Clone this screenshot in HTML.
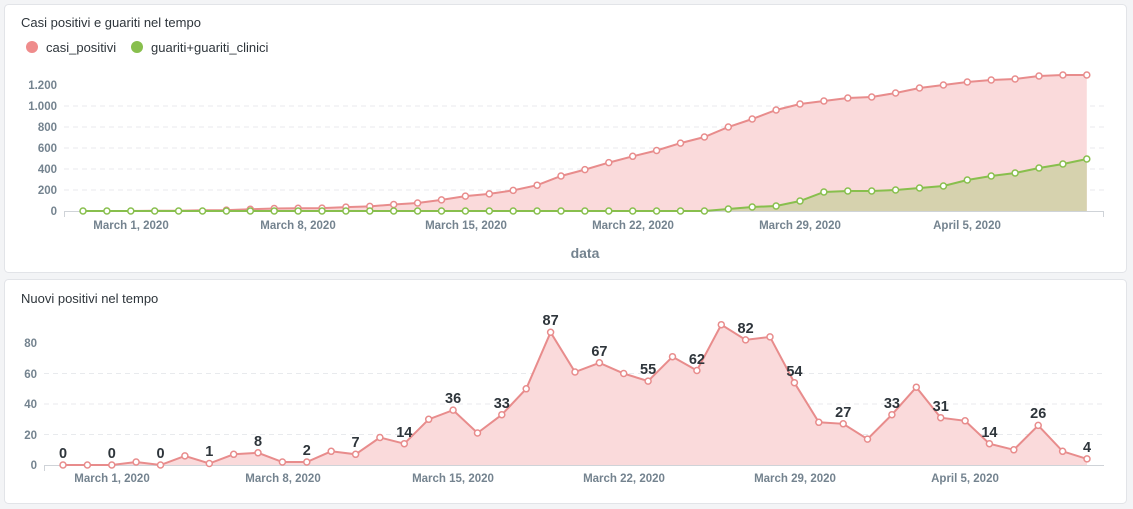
<!DOCTYPE html>
<html><head><meta charset="utf-8"><style>
html,body{margin:0;padding:0;background:#f3f4f6;width:1133px;height:509px;overflow:hidden}
svg{display:block;font-family:"Liberation Sans",sans-serif}
</style></head><body>
<svg width="1133" height="509" viewBox="0 0 1133 509">
<rect x="0" y="0" width="1133" height="509" fill="#f3f4f6"/>
<rect x="4.5" y="4.5" width="1122" height="268" rx="4" fill="#fff" stroke="#e2e4e8"/>
<rect x="4.5" y="279.5" width="1122" height="224" rx="4" fill="#fff" stroke="#e2e4e8"/>
<text x="21" y="27" font-size="13" fill="#2e353b">Casi positivi e guariti nel tempo</text>
<circle cx="32" cy="47" r="6" fill="#ef8c8c"/>
<text x="46" y="52" font-size="13" fill="#2e353b">casi_positivi</text>
<circle cx="137" cy="47" r="6" fill="#88bf4d"/>
<text x="151" y="52" font-size="13" fill="#2e353b">guariti+guariti_clinici</text>
<g stroke="#e8eaed" stroke-dasharray="5,4">
<line x1="64" x2="1104" y1="106" y2="106"/><line x1="64" x2="1104" y1="127" y2="127"/><line x1="64" x2="1104" y1="148" y2="148"/><line x1="64" x2="1104" y1="169" y2="169"/><line x1="64" x2="1104" y1="190" y2="190"/>
</g>
<g font-size="11.5" font-weight="bold" fill="#74838f" text-anchor="end">
<text x="57" y="89">1.200</text><text x="57" y="110">1.000</text><text x="57" y="131">800</text><text x="57" y="152">600</text><text x="57" y="173">400</text><text x="57" y="194">200</text><text x="57" y="215">0</text>
</g>
<polygon fill="#fadadb" points="83,211 106.9,211 130.8,211 154.7,210.8 178.6,210.8 202.5,210.2 226.4,210.1 250.3,209.3 274.2,208.5 298.1,208.3 322,208.1 345.9,207.1 369.8,206.4 393.7,204.5 417.6,203 441.5,199.9 465.4,196.1 489.3,193.9 513.2,190.4 537.1,185.2 561,176 584.9,169.6 608.8,162.6 632.7,156.3 656.6,150.5 680.5,143.1 704.4,137 728.3,127 752.2,119 776.1,110 800,104 823.9,101 847.8,98 871.7,97 895.6,93 919.5,88 943.4,85 967.3,82 991.2,80 1015.1,79 1039,76 1062.9,75 1086.8,75 1086.8,211"/>
<polygon fill="#d6d2ae" points="704.4,211 728.3,209 752.2,207 776.1,206 800,201 823.9,192 847.8,191 871.7,191 895.6,190 919.5,188 943.4,186 967.3,180 991.2,176 1015.1,173 1039,168 1062.9,164 1086.8,159 1086.8,211"/>
<line x1="64" x2="1104" y1="211.5" y2="211.5" stroke="#cfd3d8"/>
<line x1="64.5" x2="64.5" y1="211" y2="217" stroke="#cfd3d8"/>
<line x1="1103.5" x2="1103.5" y1="211" y2="217" stroke="#cfd3d8"/>
<polyline fill="none" stroke="#e88c8c" stroke-width="2" points="83,211 106.9,211 130.8,211 154.7,210.8 178.6,210.8 202.5,210.2 226.4,210.1 250.3,209.3 274.2,208.5 298.1,208.3 322,208.1 345.9,207.1 369.8,206.4 393.7,204.5 417.6,203 441.5,199.9 465.4,196.1 489.3,193.9 513.2,190.4 537.1,185.2 561,176 584.9,169.6 608.8,162.6 632.7,156.3 656.6,150.5 680.5,143.1 704.4,137 728.3,127 752.2,119 776.1,110 800,104 823.9,101 847.8,98 871.7,97 895.6,93 919.5,88 943.4,85 967.3,82 991.2,80 1015.1,79 1039,76 1062.9,75 1086.8,75"/>
<g fill="#fff" stroke="#e88c8c" stroke-width="1.5">
<circle cx="226.4" cy="210.1" r="3"/><circle cx="250.3" cy="209.3" r="3"/><circle cx="274.2" cy="208.5" r="3"/><circle cx="298.1" cy="208.3" r="3"/><circle cx="322" cy="208.1" r="3"/><circle cx="345.9" cy="207.1" r="3"/><circle cx="369.8" cy="206.4" r="3"/><circle cx="393.7" cy="204.5" r="3"/><circle cx="417.6" cy="203" r="3"/><circle cx="441.5" cy="199.9" r="3"/><circle cx="465.4" cy="196.1" r="3"/><circle cx="489.3" cy="193.9" r="3"/><circle cx="513.2" cy="190.4" r="3"/><circle cx="537.1" cy="185.2" r="3"/><circle cx="561" cy="176" r="3"/><circle cx="584.9" cy="169.6" r="3"/><circle cx="608.8" cy="162.6" r="3"/><circle cx="632.7" cy="156.3" r="3"/><circle cx="656.6" cy="150.5" r="3"/><circle cx="680.5" cy="143.1" r="3"/><circle cx="704.4" cy="137" r="3"/><circle cx="728.3" cy="127" r="3"/><circle cx="752.2" cy="119" r="3"/><circle cx="776.1" cy="110" r="3"/><circle cx="800" cy="104" r="3"/><circle cx="823.9" cy="101" r="3"/><circle cx="847.8" cy="98" r="3"/><circle cx="871.7" cy="97" r="3"/><circle cx="895.6" cy="93" r="3"/><circle cx="919.5" cy="88" r="3"/><circle cx="943.4" cy="85" r="3"/><circle cx="967.3" cy="82" r="3"/><circle cx="991.2" cy="80" r="3"/><circle cx="1015.1" cy="79" r="3"/><circle cx="1039" cy="76" r="3"/><circle cx="1062.9" cy="75" r="3"/><circle cx="1086.8" cy="75" r="3"/>
</g>
<polyline fill="none" stroke="#88bf4d" stroke-width="2" points="83,211 704.4,211 728.3,209 752.2,207 776.1,206 800,201 823.9,192 847.8,191 871.7,191 895.6,190 919.5,188 943.4,186 967.3,180 991.2,176 1015.1,173 1039,168 1062.9,164 1086.8,159"/>
<g fill="#fff" stroke="#88bf4d" stroke-width="1.5">
<circle cx="83" cy="211" r="3"/><circle cx="106.9" cy="211" r="3"/><circle cx="130.8" cy="211" r="3"/><circle cx="154.7" cy="211" r="3"/><circle cx="178.6" cy="211" r="3"/><circle cx="202.5" cy="211" r="3"/><circle cx="226.4" cy="211" r="3"/><circle cx="250.3" cy="211" r="3"/><circle cx="274.2" cy="211" r="3"/><circle cx="298.1" cy="211" r="3"/><circle cx="322" cy="211" r="3"/><circle cx="345.9" cy="211" r="3"/><circle cx="369.8" cy="211" r="3"/><circle cx="393.7" cy="211" r="3"/><circle cx="417.6" cy="211" r="3"/><circle cx="441.5" cy="211" r="3"/><circle cx="465.4" cy="211" r="3"/><circle cx="489.3" cy="211" r="3"/><circle cx="513.2" cy="211" r="3"/><circle cx="537.1" cy="211" r="3"/><circle cx="561" cy="211" r="3"/><circle cx="584.9" cy="211" r="3"/><circle cx="608.8" cy="211" r="3"/><circle cx="632.7" cy="211" r="3"/><circle cx="656.6" cy="211" r="3"/><circle cx="680.5" cy="211" r="3"/><circle cx="704.4" cy="211" r="3"/><circle cx="728.3" cy="209" r="3"/><circle cx="752.2" cy="207" r="3"/><circle cx="776.1" cy="206" r="3"/><circle cx="800" cy="201" r="3"/><circle cx="823.9" cy="192" r="3"/><circle cx="847.8" cy="191" r="3"/><circle cx="871.7" cy="191" r="3"/><circle cx="895.6" cy="190" r="3"/><circle cx="919.5" cy="188" r="3"/><circle cx="943.4" cy="186" r="3"/><circle cx="967.3" cy="180" r="3"/><circle cx="991.2" cy="176" r="3"/><circle cx="1015.1" cy="173" r="3"/><circle cx="1039" cy="168" r="3"/><circle cx="1062.9" cy="164" r="3"/><circle cx="1086.8" cy="159" r="3"/>
</g>
<g font-size="11.5" font-weight="bold" fill="#74838f" text-anchor="middle">
<text x="131" y="229">March 1, 2020</text><text x="298" y="229">March 8, 2020</text><text x="466" y="229">March 15, 2020</text><text x="633" y="229">March 22, 2020</text><text x="800" y="229">March 29, 2020</text><text x="967" y="229">April 5, 2020</text>
</g>
<text x="585" y="258" font-size="14" font-weight="bold" fill="#74838f" text-anchor="middle">data</text>

<text x="21" y="303" font-size="13" fill="#2e353b">Nuovi positivi nel tempo</text>
<g stroke="#e8eaed" stroke-dasharray="5,4">
<line x1="44" x2="1104" y1="373.5" y2="373.5"/><line x1="44" x2="1104" y1="404" y2="404"/><line x1="44" x2="1104" y1="434.5" y2="434.5"/>
</g>
<g font-size="11.5" font-weight="bold" fill="#74838f" text-anchor="end">
<text x="37" y="347">80</text><text x="37" y="378">60</text><text x="37" y="408">40</text><text x="37" y="439">20</text><text x="37" y="469">0</text>
</g>
<polygon fill="#fadadb" points="63,465 87.4,465 111.8,465 136.1,462 160.5,465 184.9,455.9 209.3,463.5 233.7,454.3 258,452.8 282.4,462 306.8,462 331.2,451.3 355.6,454.3 379.9,437.5 404.3,443.7 428.7,419.3 453.1,410.1 477.5,433 501.8,414.7 526.2,388.8 550.6,332.3 575,372 599.4,362.8 623.7,373.5 648.1,381.1 672.5,356.7 696.9,370.5 721.3,324.7 745.6,339.9 770,336.9 794.4,382.7 818.8,422.3 843.2,423.8 867.5,439.1 891.9,414.7 916.3,387.2 940.7,417.7 965.1,420.8 989.4,443.7 1013.8,449.8 1038.2,425.4 1062.6,451.3 1087,458.9 1087,465"/>
<line x1="44" x2="1104" y1="465.5" y2="465.5" stroke="#cfd3d8"/>
<line x1="44.5" x2="44.5" y1="465" y2="471" stroke="#cfd3d8"/>
<polyline fill="none" stroke="#e88c8c" stroke-width="2" points="63,465 87.4,465 111.8,465 136.1,462 160.5,465 184.9,455.9 209.3,463.5 233.7,454.3 258,452.8 282.4,462 306.8,462 331.2,451.3 355.6,454.3 379.9,437.5 404.3,443.7 428.7,419.3 453.1,410.1 477.5,433 501.8,414.7 526.2,388.8 550.6,332.3 575,372 599.4,362.8 623.7,373.5 648.1,381.1 672.5,356.7 696.9,370.5 721.3,324.7 745.6,339.9 770,336.9 794.4,382.7 818.8,422.3 843.2,423.8 867.5,439.1 891.9,414.7 916.3,387.2 940.7,417.7 965.1,420.8 989.4,443.7 1013.8,449.8 1038.2,425.4 1062.6,451.3 1087,458.9"/>
<g fill="#fff" stroke="#e88c8c" stroke-width="1.5">
<circle cx="63" cy="465" r="3"/><circle cx="87.4" cy="465" r="3"/><circle cx="111.8" cy="465" r="3"/><circle cx="136.1" cy="462" r="3"/><circle cx="160.5" cy="465" r="3"/><circle cx="184.9" cy="455.9" r="3"/><circle cx="209.3" cy="463.5" r="3"/><circle cx="233.7" cy="454.3" r="3"/><circle cx="258" cy="452.8" r="3"/><circle cx="282.4" cy="462" r="3"/><circle cx="306.8" cy="462" r="3"/><circle cx="331.2" cy="451.3" r="3"/><circle cx="355.6" cy="454.3" r="3"/><circle cx="379.9" cy="437.5" r="3"/><circle cx="404.3" cy="443.7" r="3"/><circle cx="428.7" cy="419.3" r="3"/><circle cx="453.1" cy="410.1" r="3"/><circle cx="477.5" cy="433" r="3"/><circle cx="501.8" cy="414.7" r="3"/><circle cx="526.2" cy="388.8" r="3"/><circle cx="550.6" cy="332.3" r="3"/><circle cx="575" cy="372" r="3"/><circle cx="599.4" cy="362.8" r="3"/><circle cx="623.7" cy="373.5" r="3"/><circle cx="648.1" cy="381.1" r="3"/><circle cx="672.5" cy="356.7" r="3"/><circle cx="696.9" cy="370.5" r="3"/><circle cx="721.3" cy="324.7" r="3"/><circle cx="745.6" cy="339.9" r="3"/><circle cx="770" cy="336.9" r="3"/><circle cx="794.4" cy="382.7" r="3"/><circle cx="818.8" cy="422.3" r="3"/><circle cx="843.2" cy="423.8" r="3"/><circle cx="867.5" cy="439.1" r="3"/><circle cx="891.9" cy="414.7" r="3"/><circle cx="916.3" cy="387.2" r="3"/><circle cx="940.7" cy="417.7" r="3"/><circle cx="965.1" cy="420.8" r="3"/><circle cx="989.4" cy="443.7" r="3"/><circle cx="1013.8" cy="449.8" r="3"/><circle cx="1038.2" cy="425.4" r="3"/><circle cx="1062.6" cy="451.3" r="3"/><circle cx="1087" cy="458.9" r="3"/>
</g>
<g font-size="14.5" font-weight="bold" fill="#2e353b" text-anchor="middle">
<text x="63" y="458">0</text><text x="111.8" y="458">0</text><text x="160.5" y="458">0</text><text x="209.3" y="456">1</text><text x="258" y="446">8</text><text x="306.8" y="455">2</text><text x="355.6" y="447">7</text><text x="404.3" y="437">14</text><text x="453.1" y="403">36</text><text x="501.8" y="408">33</text><text x="550.6" y="325">87</text><text x="599.4" y="356">67</text><text x="648.1" y="374">55</text><text x="696.9" y="364">62</text><text x="745.6" y="333">82</text><text x="794.4" y="376">54</text><text x="843.2" y="417">27</text><text x="891.9" y="408">33</text><text x="940.7" y="411">31</text><text x="989.4" y="437">14</text><text x="1038.2" y="418">26</text><text x="1087" y="452">4</text>
</g>
<g font-size="11.5" font-weight="bold" fill="#74838f" text-anchor="middle">
<text x="112" y="482">March 1, 2020</text><text x="283" y="482">March 8, 2020</text><text x="453" y="482">March 15, 2020</text><text x="624" y="482">March 22, 2020</text><text x="795" y="482">March 29, 2020</text><text x="965" y="482">April 5, 2020</text>
</g>
</svg>
</body></html>
